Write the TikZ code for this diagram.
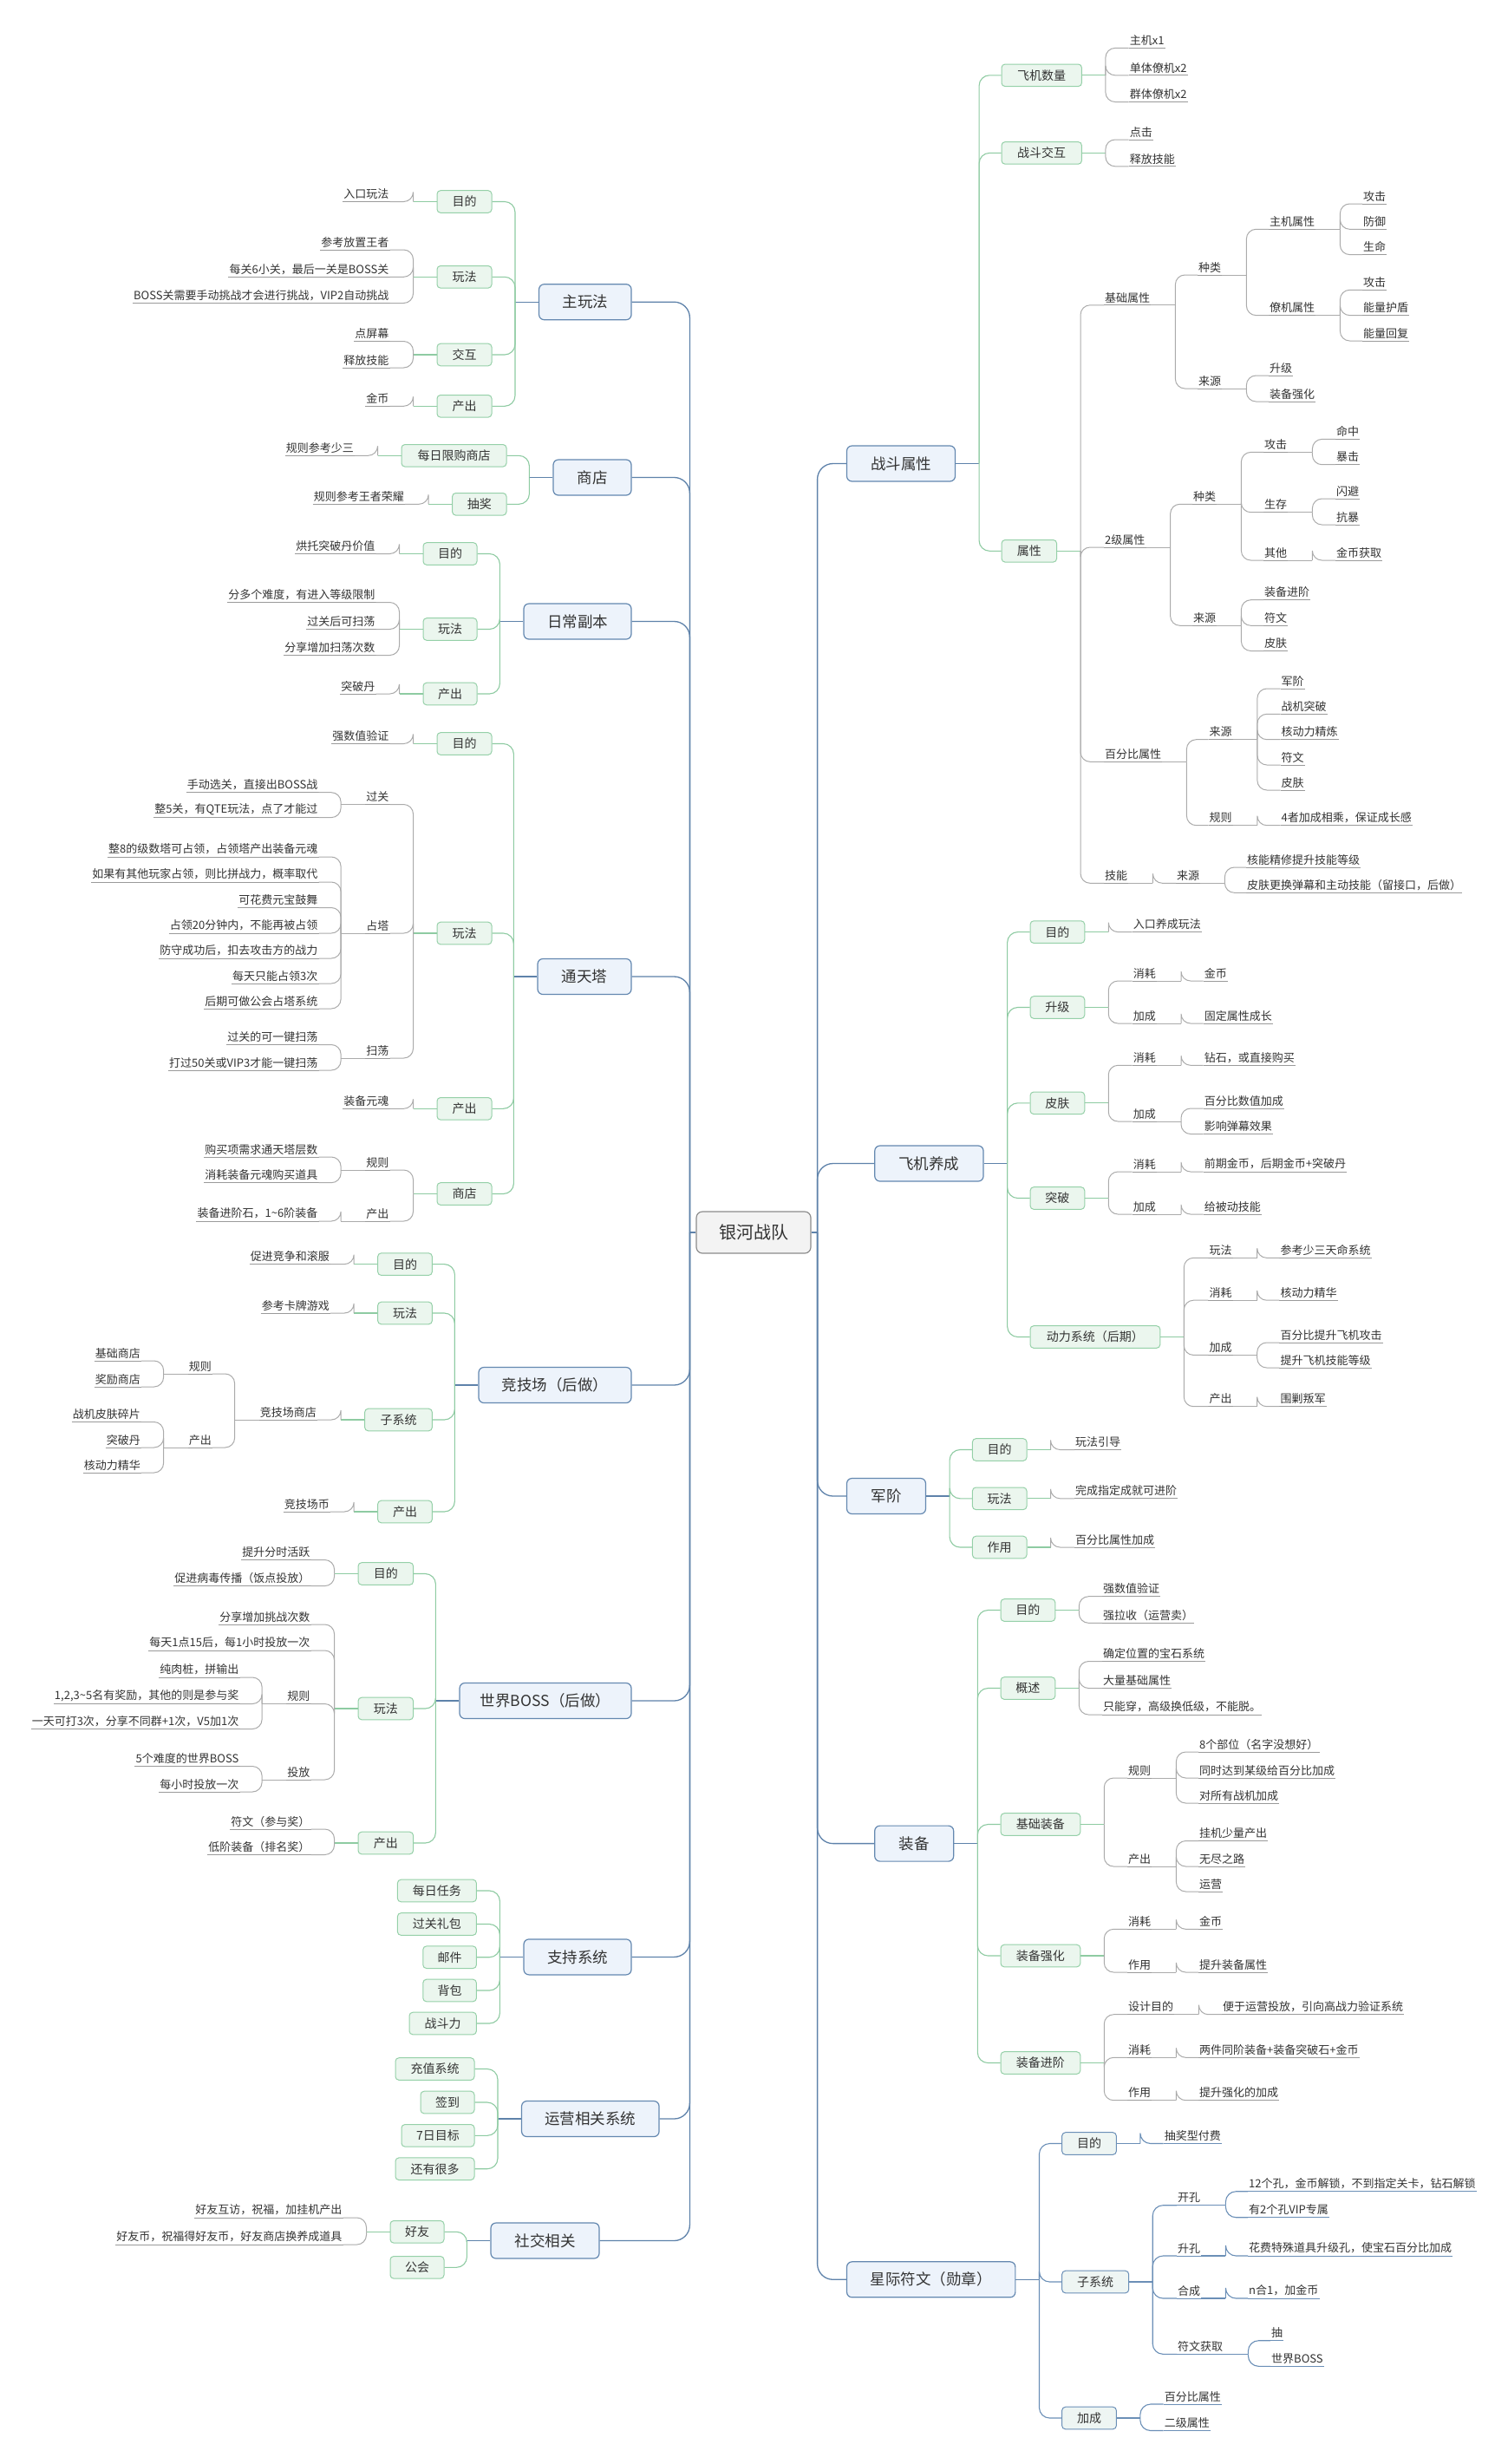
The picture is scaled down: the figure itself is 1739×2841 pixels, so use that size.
\documentclass[tikz,border=0pt]{standalone}
\usepackage{fontspec}
\setmainfont{Noto Sans CJK SC}
\usetikzlibrary{calc}
\newcommand\fsz[1]{\fontsize{#1pt}{#1pt}\selectfont}
\definecolor{txt}{HTML}{333333}
\definecolor{trunk}{HTML}{5E82AA}
\definecolor{l1fill}{HTML}{EDF3FB}
\definecolor{l1draw}{HTML}{6488B0}
\definecolor{l2fill}{HTML}{EBF6EE}
\definecolor{l2draw}{HTML}{95D0A8}
\definecolor{grn}{HTML}{8ECBA2}
\definecolor{gry}{HTML}{ABABAB}
\definecolor{ulc}{HTML}{9A9A9A}
\definecolor{blu}{HTML}{6B8FB7}
\definecolor{l2bfill}{HTML}{EEF5F3}
\definecolor{cfill}{HTML}{F3F3F3}
\definecolor{cdraw}{HTML}{8C8C8C}
\tikzset{
 x=1pt, y=-1pt,
 cnode/.style={draw=cdraw, fill=cfill, line width=1.2pt, rounded corners=7pt, minimum width=132pt, minimum height=48pt, font=\fsz{20}, text=txt, inner sep=0pt},
 l1/.style={draw=l1draw, fill=l1fill, line width=1.2pt, rounded corners=6pt, minimum height=41pt, font=\fsz{17.5}, text=txt, inner sep=0pt},
 l2/.style={draw=l2draw, fill=l2fill, line width=1pt, rounded corners=4pt, minimum height=25.6pt, font=\fsz{14}, text=txt, inner sep=0pt},
 l2b/.style={l2, draw=blu, fill=l2bfill},
 leafL/.style={anchor=south east, inner xsep=1pt, inner ysep=2.5pt, font=\fsz{13}, text=txt,
   append after command={(\tikzlastnode.south west) edge[draw=ulc, line width=0.8pt] (\tikzlastnode.south east)}},
 leafR/.style={anchor=south west, inner xsep=1pt, inner ysep=2.5pt, font=\fsz{13}, text=txt,
   append after command={(\tikzlastnode.south west) edge[draw=ulc, line width=0.8pt] (\tikzlastnode.south east)}},
 leafRb/.style={anchor=south west, inner xsep=1pt, inner ysep=2.5pt, font=\fsz{13}, text=txt,
   append after command={(\tikzlastnode.south west) edge[draw=blu, line width=0.9pt] (\tikzlastnode.south east)}},
 tk/.style={draw=trunk, line width=1.3pt, rounded corners=18pt},
 gc/.style={draw=grn, line width=1.1pt, rounded corners=12pt},
 gs/.style={draw=grn, line width=1.1pt},
 yc/.style={draw=gry, line width=1pt, rounded corners=11pt},
 ys/.style={draw=gry, line width=1pt},
 bc/.style={draw=blu, line width=1.1pt, rounded corners=12pt},
 bs/.style={draw=blu, line width=1.1pt},
}
% stub style, parent anchor, shift, branch style, child anchor, children
\newcommand\fan[6]{%
  \coordinate (tmpj) at ([xshift=#3pt]#2);
  \draw[#1] (#2) -- (tmpj);
  \foreach \ch in {#6} {\draw[#4] (tmpj) |- (\ch.#5);}
}
\begin{document}
\begin{tikzpicture}
\fill[white] (0,0) rectangle (1739,2841);
\useasboundingbox (0,0) rectangle (1739,2841);

% ===== centre and level 1 =====
\node[cnode] (c) at (869,1421) {银河战队};
\node[l1, minimum width=106.5pt] (m1) at (674.8,348.2) {主玩法};
\node[l1, minimum width=90pt] (m2) at (683,550.5) {商店};
\node[l1, minimum width=124pt] (m3) at (666,716.5) {日常副本};
\node[l1, minimum width=108pt] (m4) at (674,1126) {通天塔};
\node[l1, minimum width=176pt] (m5) at (640,1597) {竞技场（后做）};
\node[l1, minimum width=198pt] (m6) at (629,1961) {世界BOSS（后做）};
\node[l1, minimum width=124pt] (m7) at (666,2256.4) {支持系统};
\node[l1, minimum width=158.5pt] (m8) at (680.8,2443) {运营相关系统};
\node[l1, minimum width=125pt] (m9) at (628.5,2583.5) {社交相关};
\node[l1, minimum width=125pt] (r1) at (1039,534.5) {战斗属性};
\node[l1, minimum width=125.3pt] (r2) at (1071.4,1341.5) {飞机养成};
\node[l1, minimum width=91pt] (r3) at (1022,1725) {军阶};
\node[l1, minimum width=91pt] (r4) at (1054.2,2125.6) {装备};
\node[l1, minimum width=194.3pt] (r5) at (1073.7,2628.3) {星际符文（勋章）};
\fan{tk}{c.west}{-7}{tk}{east}{m1,m2,m3,m4,m5,m6,m7,m8,m9}
\fan{tk}{c.east}{7}{tk}{west}{r1,r2,r3,r4,r5}

% ===== 主玩法 =====
\node[l2,minimum width=63pt] (m1a) at (535.5,232.5) {目的};
\node[l2,minimum width=63pt] (m1b) at (535.5,319.3) {玩法};
\node[l2,minimum width=63pt] (m1c) at (535.5,409) {交互};
\node[l2,minimum width=63pt] (m1d) at (535.5,468.3) {产出};
\fan{tk}{m1.west}{-27}{gc}{east}{m1a,m1b,m1c,m1d}
\node[leafL] (m1a1) at (449.5,232.5) {入口玩法};
\node[leafL] (m1b1) at (449.5,288) {参考放置王者};
\node[leafL] (m1b2) at (449.5,319.3) {每关6小关，最后一关是BOSS关};
\node[leafL] (m1b3) at (449.5,349.5) {BOSS关需要手动挑战才会进行挑战，VIP2自动挑战};
\node[leafL] (m1c1) at (449.5,393.5) {点屏幕};
\node[leafL] (m1c2) at (449.5,424) {释放技能};
\node[leafL] (m1d1) at (449.5,468.3) {金币};
\fan{gs}{m1a.west}{-27}{yc}{south east}{m1a1}
\fan{gs}{m1b.west}{-27}{yc}{south east}{m1b1,m1b2,m1b3}
\fan{gs}{m1c.west}{-27}{yc}{south east}{m1c1,m1c2}
\fan{gs}{m1d.west}{-27}{yc}{south east}{m1d1}

% ===== 商店 =====
\node[l2,minimum width=121pt] (m2a) at (523.5,525.3) {每日限购商店};
\node[l2,minimum width=62.4pt] (m2b) at (552.8,581.3) {抽奖};
\fan{tk}{m2.west}{-27}{gc}{east}{m2a,m2b}
\node[leafL] (m2a1) at (409,525.3) {规则参考少三};
\node[leafL] (m2b1) at (467,581.3) {规则参考王者荣耀};
\fan{gs}{m2a.west}{-27}{yc}{south east}{m2a1}
\fan{gs}{m2b.west}{-27}{yc}{south east}{m2b1}

% ===== 日常副本 =====
\node[l2,minimum width=62pt] (m3a) at (519,638.5) {目的};
\node[l2,minimum width=62pt] (m3b) at (519,725.5) {玩法};
\node[l2,minimum width=62pt] (m3c) at (519,800) {产出};
\fan{tk}{m3.west}{-27}{gc}{east}{m3a,m3b,m3c}
\node[leafL] (m3a1) at (433.5,638.5) {烘托突破丹价值};
\node[leafL] (m3b1) at (433.5,694.5) {分多个难度，有进入等级限制};
\node[leafL] (m3b2) at (433.5,725.5) {过关后可扫荡};
\node[leafL] (m3b3) at (433.5,755.5) {分享增加扫荡次数};
\node[leafL] (m3c1) at (433.5,800) {突破丹};
\fan{gs}{m3a.west}{-27}{yc}{south east}{m3a1}
\fan{gs}{m3b.west}{-27}{yc}{south east}{m3b1,m3b2,m3b3}
\fan{gs}{m3c.west}{-27}{yc}{south east}{m3c1}

% ===== 通天塔 =====
\node[l2,minimum width=63pt] (m4a) at (535.5,857.5) {目的};
\node[l2,minimum width=63pt] (m4b) at (535.5,1076) {玩法};
\node[l2,minimum width=63pt] (m4c) at (535.5,1278.3) {产出};
\node[l2,minimum width=63pt] (m4d) at (535.5,1376.5) {商店};
\fan{tk}{m4.west}{-27}{gc}{east}{m4a,m4b,m4c,m4d}
\node[leafL] (m4a1) at (449.5,857.5) {强数值验证};
\node[leafL] (m4b1) at (449.5,927.5) {过关};
\node[leafL] (m4b2) at (449.5,1076) {占塔};
\node[leafL] (m4b3) at (449.5,1220) {扫荡};
\node[leafL] (m4c1) at (449.5,1278.3) {装备元魂};
\node[leafL] (m4d1) at (449.5,1349) {规则};
\node[leafL] (m4d2) at (449.5,1408) {产出};
\fan{gs}{m4a.west}{-27}{yc}{south east}{m4a1}
\fan{gs}{m4b.west}{-27}{yc}{south east}{m4b1,m4b2,m4b3}
\fan{gs}{m4c.west}{-27}{yc}{south east}{m4c1}
\fan{gs}{m4d.west}{-27}{yc}{south east}{m4d1,m4d2}
\node[leafL] (m4b1a) at (367.5,913.7) {手动选关，直接出BOSS战};
\node[leafL] (m4b1b) at (367.5,942.6) {整5关，有QTE玩法，点了才能过};
\node[leafL] (m4b2a) at (367.5,988) {整8的级数塔可占领，占领塔产出装备元魂};
\node[leafL] (m4b2b) at (367.5,1017) {如果有其他玩家占领，则比拼战力，概率取代};
\node[leafL] (m4b2c) at (367.5,1046.5) {可花费元宝鼓舞};
\node[leafL] (m4b2d) at (367.5,1076) {占领20分钟内，不能再被占领};
\node[leafL] (m4b2e) at (367.5,1105) {防守成功后，扣去攻击方的战力};
\node[leafL] (m4b2f) at (367.5,1134) {每天只能占领3次};
\node[leafL] (m4b2g) at (367.5,1163) {后期可做公会占塔系统};
\node[leafL] (m4b3a) at (367.5,1204.5) {过关的可一键扫荡};
\node[leafL] (m4b3b) at (367.5,1234) {打过50关或VIP3才能一键扫荡};
\node[leafL] (m4d1a) at (367.5,1334) {购买项需求通天塔层数};
\node[leafL] (m4d1b) at (367.5,1363.7) {消耗装备元魂购买道具};
\node[leafL] (m4d2a) at (367.5,1408) {装备进阶石，1\textasciitilde 6阶装备};
\fan{ys}{m4b1.south west}{-28}{yc}{south east}{m4b1a,m4b1b}
\fan{ys}{m4b2.south west}{-28}{yc}{south east}{m4b2a,m4b2b,m4b2c,m4b2d,m4b2e,m4b2f,m4b2g}
\fan{ys}{m4b3.south west}{-28}{yc}{south east}{m4b3a,m4b3b}
\fan{ys}{m4d1.south west}{-28}{yc}{south east}{m4d1a,m4d1b}
\fan{ys}{m4d2.south west}{-28}{yc}{south east}{m4d2a}

% ===== 竞技场 =====
\node[l2,minimum width=62.7pt] (m5a) at (467,1457.6) {目的};
\node[l2,minimum width=62.7pt] (m5b) at (467,1514) {玩法};
\node[l2,minimum width=77.7pt] (m5c) at (459.5,1637) {子系统};
\node[l2,minimum width=62.7pt] (m5d) at (467,1743) {产出};
\fan{tk}{m5.west}{-27}{gc}{east}{m5a,m5b,m5c,m5d}
\node[leafL] (m5a1) at (381,1457.6) {促进竞争和滚服};
\node[leafL] (m5b1) at (381,1514) {参考卡牌游戏};
\node[leafL] (m5c1) at (366,1637) {竞技场商店};
\node[leafL] (m5d1) at (381,1743) {竞技场币};
\fan{gs}{m5a.west}{-27}{yc}{south east}{m5a1}
\fan{gs}{m5b.west}{-27}{yc}{south east}{m5b1}
\fan{gs}{m5c.west}{-27}{yc}{south east}{m5c1}
\fan{gs}{m5d.west}{-27}{yc}{south east}{m5d1}
\node[leafL] (m5c1a) at (245,1584) {规则};
\node[leafL] (m5c1b) at (245,1669) {产出};
\fan{ys}{m5c1.south west}{-28}{yc}{south east}{m5c1a,m5c1b}
\node[leafL] (m5c1a1) at (163,1569) {基础商店};
\node[leafL] (m5c1a2) at (163,1599) {奖励商店};
\node[leafL] (m5c1b1) at (163,1639.5) {战机皮肤碎片};
\node[leafL] (m5c1b2) at (163,1669) {突破丹};
\node[leafL] (m5c1b3) at (163,1698) {核动力精华};
\fan{ys}{m5c1a.south west}{-28}{yc}{south east}{m5c1a1,m5c1a2}
\fan{ys}{m5c1b.south west}{-28}{yc}{south east}{m5c1b1,m5c1b2,m5c1b3}

% ===== 世界BOSS =====
\node[l2,minimum width=63.5pt] (m6a) at (444.8,1814.5) {目的};
\node[l2,minimum width=63.5pt] (m6b) at (444.8,1970) {玩法};
\node[l2,minimum width=63.5pt] (m6c) at (444.8,2125) {产出};
\fan{tk}{m6.west}{-27}{gc}{east}{m6a,m6b,m6c}
\node[leafL] (m6a1) at (358.5,1798.5) {提升分时活跃};
\node[leafL] (m6a2) at (358.5,1828.6) {促进病毒传播（饭点投放）};
\node[leafL] (m6b1) at (358.5,1873) {分享增加挑战次数};
\node[leafL] (m6b2) at (358.5,1903) {每天1点15后，每1小时投放一次};
\node[leafL] (m6b3) at (358.5,1964.5) {规则};
\node[leafL] (m6b4) at (358.5,2052) {投放};
\node[leafL] (m6c1) at (358.5,2109) {符文（参与奖）};
\node[leafL] (m6c2) at (358.5,2138.5) {低阶装备（排名奖）};
\fan{gs}{m6a.west}{-27}{yc}{south east}{m6a1,m6a2}
\fan{gs}{m6b.west}{-27}{yc}{south east}{m6b1,m6b2,m6b3,m6b4}
\fan{gs}{m6c.west}{-27}{yc}{south east}{m6c1,m6c2}
\node[leafL] (m6b3a) at (276.5,1934) {纯肉桩，拼输出};
\node[leafL] (m6b3b) at (276.5,1964.5) {1,2,3\textasciitilde 5名有奖励，其他的则是参与奖};
\node[leafL] (m6b3c) at (276.5,1993.5) {一天可打3次，分享不同群+1次，V5加1次};
\node[leafL] (m6b4a) at (276.5,2036.5) {5个难度的世界BOSS};
\node[leafL] (m6b4b) at (276.5,2066) {每小时投放一次};
\fan{ys}{m6b3.south west}{-28}{yc}{south east}{m6b3a,m6b3b,m6b3c}
\fan{ys}{m6b4.south west}{-28}{yc}{south east}{m6b4a,m6b4b}

% ===== 支持系统 =====
\node[l2,minimum width=91pt] (m7a) at (503.9,2180) {每日任务};
\node[l2,minimum width=91pt] (m7b) at (503.9,2218.5) {过关礼包};
\node[l2,minimum width=61.6pt] (m7c) at (518.6,2256.7) {邮件};
\node[l2,minimum width=61.6pt] (m7d) at (518.6,2295) {背包};
\node[l2,minimum width=77.4pt] (m7e) at (510.7,2333) {战斗力};
\fan{tk}{m7.west}{-27}{gc}{east}{m7a,m7b,m7c,m7d,m7e}

% ===== 运营相关系统 =====
\node[l2,minimum width=91pt] (m8a) at (501.5,2385.5) {充值系统};
\node[l2,minimum width=62pt] (m8b) at (516,2424) {签到};
\node[l2,minimum width=84pt] (m8c) at (505,2462.3) {7日目标};
\node[l2,minimum width=91pt] (m8d) at (501.5,2500.7) {还有很多};
\fan{tk}{m8.west}{-27}{gc}{east}{m8a,m8b,m8c,m8d}

% ===== 社交相关 =====
\node[l2,minimum width=62pt] (m9a) at (481,2573.3) {好友};
\node[l2,minimum width=62pt] (m9b) at (481,2614.3) {公会};
\fan{tk}{m9.west}{-27}{gc}{east}{m9a,m9b}
\node[leafL] (m9a1) at (395.5,2557) {好友互访，祝福，加挂机产出};
\node[leafL] (m9a2) at (395.5,2588) {好友币，祝福得好友币，好友商店换养成道具};
\fan{gs}{m9a.west}{-27}{yc}{south east}{m9a1,m9a2}

% ===== 战斗属性 =====
\node[l2,minimum width=92.4pt] (r1a) at (1201.2,86.8) {飞机数量};
\node[l2,minimum width=92.4pt] (r1b) at (1201.2,176.4) {战斗交互};
\node[l2,minimum width=63.5pt] (r1c) at (1186.8,635.3) {属性};
\fan{tk}{r1.east}{27}{gc}{west}{r1a,r1b,r1c}
\node[leafR] (r1a1) at (1301.7,55.4) {主机x1};
\node[leafR] (r1a2) at (1301.7,86.8) {单体僚机x2};
\node[leafR] (r1a3) at (1301.7,117.5) {群体僚机x2};
\node[leafR] (r1b1) at (1301.7,161) {点击};
\node[leafR] (r1b2) at (1301.7,191.8) {释放技能};
\fan{gs}{r1a.east}{27}{yc}{south west}{r1a1,r1a2,r1a3}
\fan{gs}{r1b.east}{27}{yc}{south west}{r1b1,r1b2}
\node[leafR] (r1c1) at (1273,351.8) {基础属性};
\node[leafR] (r1c2) at (1273,631) {2级属性};
\node[leafR] (r1c3) at (1273,878.3) {百分比属性};
\node[leafR] (r1c4) at (1273,1018.3) {技能};
\fan{gs}{r1c.east}{27}{yc}{south west}{r1c1,r1c2,r1c3,r1c4}
% 基础属性
\node[leafR] (r1c1a) at (1381,317) {种类};
\node[leafR] (r1c1b) at (1381,448) {来源};
\fan{ys}{r1c1.south east}{28}{yc}{south west}{r1c1a,r1c1b}
\node[leafR] (r1c1a1) at (1463,264.3) {主机属性};
\node[leafR] (r1c1a2) at (1463,363.6) {僚机属性};
\fan{ys}{r1c1a.south east}{28}{yc}{south west}{r1c1a1,r1c1a2}
\node[leafR] (r1c1a1a) at (1571,235) {攻击};
\node[leafR] (r1c1a1b) at (1571,264.3) {防御};
\node[leafR] (r1c1a1c) at (1571,293.6) {生命};
\fan{ys}{r1c1a1.south east}{28}{yc}{south west}{r1c1a1a,r1c1a1b,r1c1a1c}
\node[leafR] (r1c1a2a) at (1571,334.3) {攻击};
\node[leafR] (r1c1a2b) at (1571,363.6) {能量护盾};
\node[leafR] (r1c1a2c) at (1571,393) {能量回复};
\fan{ys}{r1c1a2.south east}{28}{yc}{south west}{r1c1a2a,r1c1a2b,r1c1a2c}
\node[leafR] (r1c1b1) at (1463,433) {升级};
\node[leafR] (r1c1b2) at (1463,463) {装备强化};
\fan{ys}{r1c1b.south east}{28}{yc}{south west}{r1c1b1,r1c1b2}
% 2级属性
\node[leafR] (r1c2a) at (1375,581.3) {种类};
\node[leafR] (r1c2b) at (1375,721.3) {来源};
\fan{ys}{r1c2.south east}{28}{yc}{south west}{r1c2a,r1c2b}
\node[leafR] (r1c2a1) at (1457,521.4) {攻击};
\node[leafR] (r1c2a2) at (1457,590.7) {生存};
\node[leafR] (r1c2a3) at (1457,646) {其他};
\fan{ys}{r1c2a.south east}{28}{yc}{south west}{r1c2a1,r1c2a2,r1c2a3}
\node[leafR] (r1c2a1a) at (1540,506.4) {命中};
\node[leafR] (r1c2a1b) at (1540,535.7) {暴击};
\fan{ys}{r1c2a1.south east}{28}{yc}{south west}{r1c2a1a,r1c2a1b}
\node[leafR] (r1c2a2a) at (1540,575) {闪避};
\node[leafR] (r1c2a2b) at (1540,605) {抗暴};
\fan{ys}{r1c2a2.south east}{28}{yc}{south west}{r1c2a2a,r1c2a2b}
\node[leafR] (r1c2a3a) at (1540,646) {金币获取};
\fan{ys}{r1c2a3.south east}{28}{yc}{south west}{r1c2a3a}
\node[leafR] (r1c2b1) at (1457,691.7) {装备进阶};
\node[leafR] (r1c2b2) at (1457,721.3) {符文};
\node[leafR] (r1c2b3) at (1457,750.5) {皮肤};
\fan{ys}{r1c2b.south east}{28}{yc}{south west}{r1c2b1,r1c2b2,r1c2b3}
% 百分比属性
\node[leafR] (r1c3a) at (1393.5,852.7) {来源};
\node[leafR] (r1c3b) at (1393.5,951.7) {规则};
\fan{ys}{r1c3.south east}{28}{yc}{south west}{r1c3a,r1c3b}
\node[leafR] (r1c3a1) at (1476.5,794) {军阶};
\node[leafR] (r1c3a2) at (1476.5,823.3) {战机突破};
\node[leafR] (r1c3a3) at (1476.5,852.7) {核动力精炼};
\node[leafR] (r1c3a4) at (1476.5,882) {符文};
\node[leafR] (r1c3a5) at (1476.5,911) {皮肤};
\fan{ys}{r1c3a.south east}{28}{yc}{south west}{r1c3a1,r1c3a2,r1c3a3,r1c3a4,r1c3a5}
\node[leafR] (r1c3b1) at (1476.5,951.7) {4者加成相乘，保证成长感};
\fan{ys}{r1c3b.south east}{28}{yc}{south west}{r1c3b1}
% 技能
\node[leafR] (r1c4a) at (1356,1018.3) {来源};
\fan{ys}{r1c4.south east}{28}{yc}{south west}{r1c4a}
\node[leafR] (r1c4a1) at (1437,1000) {核能精修提升技能等级};
\node[leafR] (r1c4a2) at (1437,1029.3) {皮肤更换弹幕和主动技能（留接口，后做）};
\fan{ys}{r1c4a.south east}{28}{yc}{south west}{r1c4a1,r1c4a2}

% ===== 飞机养成 =====
\node[l2,minimum width=62.7pt] (r2a) at (1219.4,1074.6) {目的};
\node[l2,minimum width=62.7pt] (r2b) at (1219.4,1161.5) {升级};
\node[l2,minimum width=62.7pt] (r2c) at (1219.4,1271.8) {皮肤};
\node[l2,minimum width=62.7pt] (r2d) at (1219.4,1381.5) {突破};
\node[l2,minimum width=149.8pt] (r2e) at (1262.9,1541.5) {动力系统（后期）};
\fan{tk}{r2.east}{27}{gc}{west}{r2a,r2b,r2c,r2d,r2e}
\node[leafR] (r2a1) at (1305.6,1074.6) {入口养成玩法};
\fan{gs}{r2a.east}{27}{yc}{south west}{r2a1}
\node[leafR] (r2b1) at (1305.6,1131) {消耗};
\node[leafR] (r2b2) at (1305.6,1180) {加成};
\fan{gs}{r2b.east}{27}{yc}{south west}{r2b1,r2b2}
\node[leafR] (r2b1a) at (1387.7,1131) {金币};
\node[leafR] (r2b2a) at (1387.7,1180) {固定属性成长};
\fan{ys}{r2b1.south east}{28}{yc}{south west}{r2b1a}
\fan{ys}{r2b2.south east}{28}{yc}{south west}{r2b2a}
\node[leafR] (r2c1) at (1305.6,1228.3) {消耗};
\node[leafR] (r2c2) at (1305.6,1293) {加成};
\fan{gs}{r2c.east}{27}{yc}{south west}{r2c1,r2c2}
\node[leafR] (r2c1a) at (1387.7,1228.3) {钻石，或直接购买};
\node[leafR] (r2c2a) at (1387.7,1278) {百分比数值加成};
\node[leafR] (r2c2b) at (1387.7,1307.5) {影响弹幕效果};
\fan{ys}{r2c1.south east}{28}{yc}{south west}{r2c1a}
\fan{ys}{r2c2.south east}{28}{yc}{south west}{r2c2a,r2c2b}
\node[leafR] (r2d1) at (1305.6,1351) {消耗};
\node[leafR] (r2d2) at (1305.6,1400) {加成};
\fan{gs}{r2d.east}{27}{yc}{south west}{r2d1,r2d2}
\node[leafR] (r2d1a) at (1387.7,1351) {前期金币，后期金币+突破丹};
\node[leafR] (r2d2a) at (1387.7,1400) {给被动技能};
\fan{ys}{r2d1.south east}{28}{yc}{south west}{r2d1a}
\fan{ys}{r2d2.south east}{28}{yc}{south west}{r2d2a}
\node[leafR] (r2e1) at (1393.3,1450.3) {玩法};
\node[leafR] (r2e2) at (1393.3,1499.2) {消耗};
\node[leafR] (r2e3) at (1393.3,1562.4) {加成};
\node[leafR] (r2e4) at (1393.3,1621.7) {产出};
\fan{gs}{r2e.east}{27}{yc}{south west}{r2e1,r2e2,r2e3,r2e4}
\node[leafR] (r2e1a) at (1475.3,1450.3) {参考少三天命系统};
\node[leafR] (r2e2a) at (1475.3,1499.2) {核动力精华};
\node[leafR] (r2e3a) at (1475.3,1548) {百分比提升飞机攻击};
\node[leafR] (r2e3b) at (1475.3,1577) {提升飞机技能等级};
\node[leafR] (r2e4a) at (1475.3,1621.7) {围剿叛军};
\fan{ys}{r2e1.south east}{28}{yc}{south west}{r2e1a}
\fan{ys}{r2e2.south east}{28}{yc}{south west}{r2e2a}
\fan{ys}{r2e3.south east}{28}{yc}{south west}{r2e3a,r2e3b}
\fan{ys}{r2e4.south east}{28}{yc}{south west}{r2e4a}

% ===== 军阶 =====
\node[l2,minimum width=62.6pt] (r3a) at (1152.7,1671.5) {目的};
\node[l2,minimum width=62.6pt] (r3b) at (1152.7,1727.8) {玩法};
\node[l2,minimum width=62.6pt] (r3c) at (1152.7,1784) {作用};
\fan{tk}{r3.east}{27}{gc}{west}{r3a,r3b,r3c}
\node[leafR] (r3a1) at (1239,1671.5) {玩法引导};
\node[leafR] (r3b1) at (1239,1727.8) {完成指定成就可进阶};
\node[leafR] (r3c1) at (1239,1784) {百分比属性加成};
\fan{gs}{r3a.east}{27}{yc}{south west}{r3a1}
\fan{gs}{r3b.east}{27}{yc}{south west}{r3b1}
\fan{gs}{r3c.east}{27}{yc}{south west}{r3c1}

% ===== 装备 =====
\node[l2,minimum width=62.8pt] (r4a) at (1185.4,1856.5) {目的};
\node[l2,minimum width=62.8pt] (r4b) at (1185.4,1946.5) {概述};
\node[l2,minimum width=91.7pt] (r4c) at (1199.9,2103.5) {基础装备};
\node[l2,minimum width=91.7pt] (r4d) at (1199.9,2255) {装备强化};
\node[l2,minimum width=91.7pt] (r4e) at (1199.9,2378.5) {装备进阶};
\fan{tk}{r4.east}{27}{gc}{west}{r4a,r4b,r4c,r4d,r4e}
\node[leafR] (r4a1) at (1271,1840.7) {强数值验证};
\node[leafR] (r4a2) at (1271,1871.3) {强拉收（运营卖）};
\fan{gs}{r4a.east}{27}{yc}{south west}{r4a1,r4a2}
\node[leafR] (r4b1) at (1271,1915.5) {确定位置的宝石系统};
\node[leafR] (r4b2) at (1271,1946.5) {大量基础属性};
\node[leafR] (r4b3) at (1271,1977) {只能穿，高级换低级，不能脱。};
\fan{gs}{r4b.east}{27}{yc}{south west}{r4b1,r4b2,r4b3}
\node[leafR] (r4c1) at (1300,2050) {规则};
\node[leafR] (r4c2) at (1300,2152) {产出};
\fan{gs}{r4c.east}{27}{yc}{south west}{r4c1,r4c2}
\node[leafR] (r4c1a) at (1382,2020) {8个部位（名字没想好）};
\node[leafR] (r4c1b) at (1382,2050) {同时达到某级给百分比加成};
\node[leafR] (r4c1c) at (1382,2079) {对所有战机加成};
\fan{ys}{r4c1.south east}{28}{yc}{south west}{r4c1a,r4c1b,r4c1c}
\node[leafR] (r4c2a) at (1382,2122.5) {挂机少量产出};
\node[leafR] (r4c2b) at (1382,2152) {无尽之路};
\node[leafR] (r4c2c) at (1382,2181) {运营};
\fan{ys}{r4c2.south east}{28}{yc}{south west}{r4c2a,r4c2b,r4c2c}
\node[leafR] (r4d1) at (1300,2224.3) {消耗};
\node[leafR] (r4d2) at (1300,2274) {作用};
\fan{gs}{r4d.east}{27}{yc}{south west}{r4d1,r4d2}
\node[leafR] (r4d1a) at (1382,2224.3) {金币};
\node[leafR] (r4d2a) at (1382,2274) {提升装备属性};
\fan{ys}{r4d1.south east}{28}{yc}{south west}{r4d1a}
\fan{ys}{r4d2.south east}{28}{yc}{south west}{r4d2a}
\node[leafR] (r4e1) at (1300,2322.7) {设计目的};
\node[leafR] (r4e2) at (1300,2372.3) {消耗};
\node[leafR] (r4e3) at (1300,2421.7) {作用};
\fan{gs}{r4e.east}{27}{yc}{south west}{r4e1,r4e2,r4e3}
\node[leafR] (r4e1a) at (1409,2322.7) {便于运营投放，引向高战力验证系统};
\node[leafR] (r4e2a) at (1382,2372.3) {两件同阶装备+装备突破石+金币};
\node[leafR] (r4e3a) at (1382,2421.7) {提升强化的加成};
\fan{ys}{r4e1.south east}{28}{yc}{south west}{r4e1a}
\fan{ys}{r4e2.south east}{28}{yc}{south west}{r4e2a}
\fan{ys}{r4e3.south east}{28}{yc}{south west}{r4e3a}

% ===== 星际符文 =====
\node[l2b,minimum width=62.7pt] (r5a) at (1256,2471.5) {目的};
\node[l2b,minimum width=77pt] (r5b) at (1263.2,2631) {子系统};
\node[l2b,minimum width=62.7pt] (r5c) at (1256,2788) {加成};
\fan{tk}{r5.east}{27}{bc}{west}{r5a,r5b,r5c}
\node[leafRb] (r5a1) at (1341.7,2471.5) {抽奖型付费};
\fan{bs}{r5a.east}{27}{bc}{south west}{r5a1}
\node[leafRb] (r5b1) at (1357,2542.7) {开孔};
\node[leafRb] (r5b2) at (1357,2601) {升孔};
\node[leafRb] (r5b3) at (1357,2650) {合成};
\node[leafRb] (r5b4) at (1357,2714.3) {符文获取};
\fan{bs}{r5b.east}{27}{bc}{south west}{r5b1,r5b2,r5b3,r5b4}
\node[leafRb] (r5b1a) at (1439,2526.7) {12个孔，金币解锁，不到指定关卡，钻石解锁};
\node[leafRb] (r5b1b) at (1439,2556.7) {有2个孔VIP专属};
\fan{bs}{r5b1.south east}{28}{bc}{south west}{r5b1a,r5b1b}
\node[leafRb] (r5b2a) at (1439,2601) {花费特殊道具升级孔，使宝石百分比加成};
\fan{bs}{r5b2.south east}{28}{bc}{south west}{r5b2a}
\node[leafRb] (r5b3a) at (1439,2650) {n合1，加金币};
\fan{bs}{r5b3.south east}{28}{bc}{south west}{r5b3a}
\node[leafRb] (r5b4a) at (1465,2698.7) {抽};
\node[leafRb] (r5b4b) at (1465,2728.3) {世界BOSS};
\fan{bs}{r5b4.south east}{28}{bc}{south west}{r5b4a,r5b4b}
\node[leafRb] (r5c1) at (1341.7,2772) {百分比属性};
\node[leafRb] (r5c2) at (1341.7,2802.5) {二级属性};
\fan{bs}{r5c.east}{27}{bc}{south west}{r5c1,r5c2}
\end{tikzpicture}
\end{document}
